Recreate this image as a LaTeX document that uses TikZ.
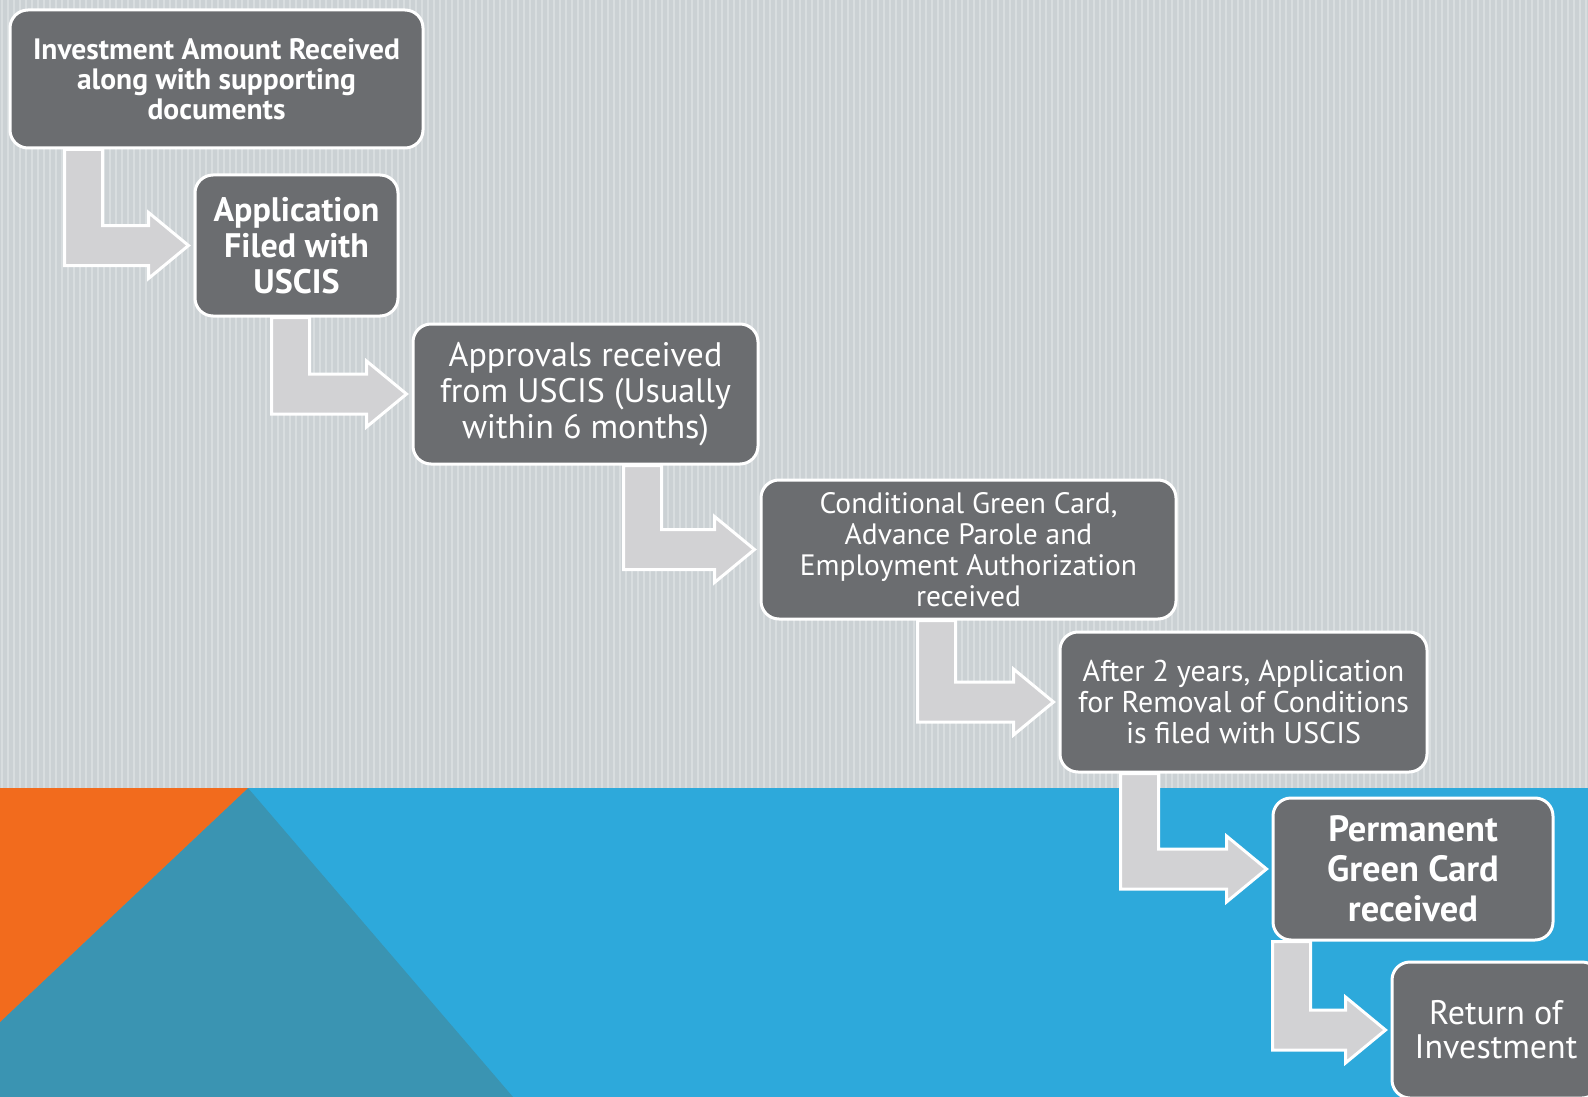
\documentclass[tikz,border=0pt]{standalone}
\usepackage{fontspec}
\setmainfont{PT Sans}
\usetikzlibrary{calc}

\definecolor{bggray}{HTML}{CBD1D4}
\definecolor{bgstripe}{HTML}{D8DDDF}
\definecolor{boxgray}{HTML}{6B6D70}
\definecolor{arrowgray}{HTML}{D2D2D4}
\definecolor{skyblue}{HTML}{2DA9DB}
\definecolor{deepteal}{HTML}{3A94B2}
\definecolor{flame}{HTML}{F26B1D}

\tikzset{
	stepbox/.style={draw=white, line width=3pt, fill=boxgray, rounded corners=18pt,
		text=white, align=center, inner sep=0pt},
	arrowbox/.style={draw=white, line width=3pt, fill=arrowgray, line join=miter},
}

% bent arrow: from box, to box, stem offset from left side of the from box
\newcommand{\bentarrow}[3]{%
	\draw[arrowbox] let \p1=(#1.south west), \p2=(#2.west) in
		(\x1+#3pt,\y1)--(\x1+#3pt+38pt,\y1)--(\x1+#3pt+38pt,\y2+20pt)
		--(\x2-45pt,\y2+20pt)--(\x2-45pt,\y2+33pt)--(\x2-5pt,\y2)
		--(\x2-45pt,\y2-33pt)--(\x2-45pt,\y2-20pt)--(\x1+#3pt,\y2-20pt)--cycle;}

\begin{document}
\begin{tikzpicture}[x=1pt,y=-1pt]
	%background
	\useasboundingbox (0,0) rectangle (1588,1097);
	\clip (0,0) rectangle (1588,1097);
	\fill[bggray] (0,0) rectangle (1588,788);
	\foreach \sx in {2,8,...,1588}
		\draw[bgstripe, line width=2pt] (\sx,0)--(\sx,788);
	\fill[skyblue] (0,788) rectangle (1588,1097);
	\fill[deepteal] (248,788)--(513,1097)--(0,1097)--(0,1022)--cycle;
	\fill[flame] (0,788)--(248,788)--(0,1022)--cycle;

	%boxes
	\node[stepbox, minimum width=413pt, minimum height=138pt, font=\bfseries\fontsize{29.5}{30}\selectfont]
		(invest) at (216.5,79) {Investment Amount Received\\along with supporting\\documents};
	\node[stepbox, minimum width=203pt, minimum height=141pt, font=\bfseries\fontsize{34}{36}\selectfont]
		(filed) at (296.5,245.5) {Application\\Filed with\\USCIS};
	\node[stepbox, minimum width=345pt, minimum height=140pt, font=\fontsize{34}{36}\selectfont]
		(approval) at (585.5,394) {Approvals received\\from USCIS (Usually\\within 6 months)};
	\node[stepbox, minimum width=415pt, minimum height=139pt, font=\fontsize{29.5}{31}\selectfont]
		(condcard) at (968.5,549.5) {Conditional Green Card,\\Advance Parole and\\Employment Authorization\\received};
	\node[stepbox, minimum width=367pt, minimum height=140pt, font=\fontsize{30}{31}\selectfont]
		(removal) at (1243.5,702) {After 2 years, Application\\for Removal of Conditions\\is filed with USCIS};
	\node[stepbox, minimum width=280pt, minimum height=142pt, font=\bfseries\fontsize{36.5}{40}\selectfont]
		(permcard) at (1413,869) {Permanent\\Green Card\\received};
	\node[stepbox, minimum width=208pt, minimum height=136pt, font=\fontsize{34}{34}\selectfont]
		(returninv) at (1496,1030) {Return of\\Investment};

	%arrows
	\bentarrow{invest}{filed}{56}
	\bentarrow{filed}{approval}{78}
	\bentarrow{approval}{condcard}{212}
	\bentarrow{condcard}{removal}{158}
	\bentarrow{removal}{permcard}{62}
	\bentarrow{permcard}{returninv}{1}
\end{tikzpicture}
\end{document}
